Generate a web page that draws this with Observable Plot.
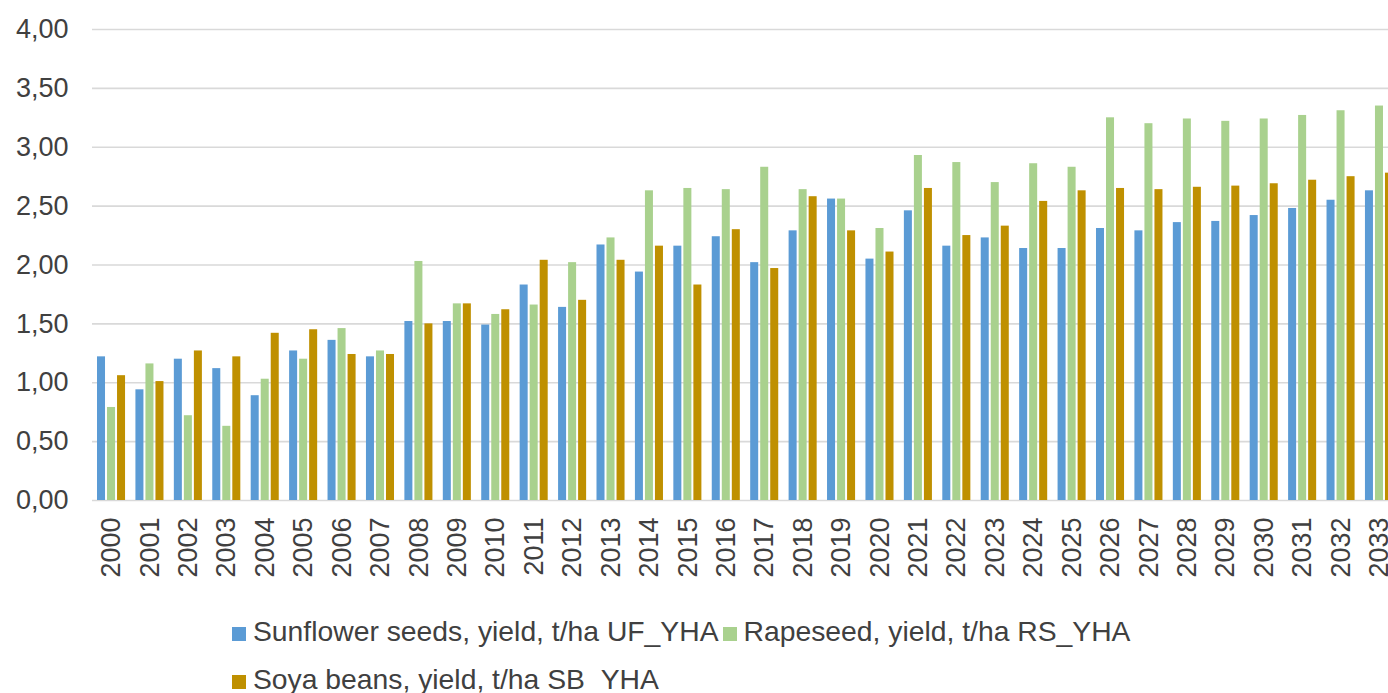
<!DOCTYPE html>
<html>
<head>
<meta charset="utf-8">
<script src="https://cdn.jsdelivr.net/npm/d3@7"></script>
<script src="https://cdn.jsdelivr.net/npm/@observablehq/plot@0.6"></script>
<style>
  html, body { margin: 0; padding: 0; background: #fff; overflow: hidden; width: 1388px; height: 693px; }
  .layer { position: absolute; left: 0; top: 0; width: 1400px; }
  #legend { position: absolute; left: 232px; top: 607px; width: 960px; font-family: "Liberation Sans", Arial, sans-serif; font-size: 28.3px; color: #404040; line-height: 48px; }
  .item { display: inline-block; white-space: nowrap; margin-right: 4px; }
  .sw { display: inline-block; width: 14px; height: 14px; margin-right: 7px; vertical-align: 0px; }
</style>
</head>
<body>
<div id="grid" class="layer"></div>
<div id="bars" class="layer"></div>
<div id="legend"></div>
<script>
const years = ["2000","2001","2002","2003","2004","2005","2006","2007","2008","2009","2010","2011","2012","2013","2014","2015","2016","2017","2018","2019","2020","2021","2022","2023","2024","2025","2026","2027","2028","2029","2030","2031","2032","2033"];
const seriesNames = ["Sunflower seeds, yield, t/ha UF_YHA", "Rapeseed, yield, t/ha RS_YHA", "Soya beans, yield, t/ha SB_YHA"];
const seriesColors = ["#5B9BD5", "#A9D18E", "#BF9000"];
const sunflower = [1.22,0.94,1.20,1.12,0.89,1.27,1.36,1.22,1.52,1.52,1.49,1.83,1.64,2.17,1.94,2.16,2.24,2.02,2.29,2.56,2.05,2.46,2.16,2.23,2.14,2.14,2.31,2.29,2.36,2.37,2.42,2.48,2.55,2.63];
const rapeseed  = [0.79,1.16,0.72,0.63,1.03,1.20,1.46,1.27,2.03,1.67,1.58,1.66,2.02,2.23,2.63,2.65,2.64,2.83,2.64,2.56,2.31,2.93,2.87,2.70,2.86,2.83,3.25,3.20,3.24,3.22,3.24,3.27,3.31,3.35];
const soya      = [1.06,1.01,1.27,1.22,1.42,1.45,1.24,1.24,1.50,1.67,1.62,2.04,1.70,2.04,2.16,1.83,2.30,1.97,2.58,2.29,2.11,2.65,2.25,2.33,2.54,2.63,2.65,2.64,2.66,2.67,2.69,2.72,2.75,2.78];
const yTicks = [0,0.5,1,1.5,2,2.5,3,3.5,4];

const values = [sunflower, rapeseed, soya];
const data = [];
years.forEach((yr, i) => {
  seriesNames.forEach((s, j) => data.push({year: yr, series: s, value: values[j][i]}));
});

const fmt = d => d.toFixed(2).replace(".", ",");
const baseStyle = {fontFamily: "'Liberation Sans', Arial, sans-serif", fontSize: "27px", color: "#404040", background: "transparent", overflow: "visible", maxWidth: "none"};

const gridPlot = Plot.plot({
  width: 1398,
  height: 600,
  marginLeft: 92,
  marginRight: 0,
  marginTop: 29,
  marginBottom: 100,
  style: baseStyle,
  y: {domain: [0, 4], ticks: yTicks, tickFormat: fmt, tickSize: 0, tickPadding: 24, label: null},
  marks: [
    Plot.ruleY(yTicks, {stroke: "#d9d9d9", strokeWidth: 1.6})
  ]
});
document.getElementById("grid").appendChild(gridPlot);

const barPlot = Plot.plot({
  width: 1393,
  height: 600,
  marginLeft: 97,
  marginRight: 0,
  marginTop: 29,
  marginBottom: 100,
  style: baseStyle,
  fx: {domain: years, paddingInner: 0.27, paddingOuter: 0, round: false, label: null, tickRotate: -90, tickSize: 0, tickPadding: 17},
  x: {domain: seriesNames, paddingInner: 0.2, paddingOuter: 0, round: false, axis: null},
  y: {domain: [0, 4], axis: null},
  color: {domain: seriesNames, range: seriesColors},
  marks: [
    Plot.barY(data, {fx: "year", x: "series", y: "value", fill: "series"})
  ]
});
document.getElementById("bars").appendChild(barPlot);

const legend = document.getElementById("legend");
seriesNames.forEach((s, j) => {
  const item = document.createElement("span");
  item.className = "item";
  const sw = document.createElement("span");
  sw.className = "sw";
  sw.style.background = seriesColors[j];
  item.appendChild(sw);
  item.appendChild(document.createTextNode(s));
  legend.appendChild(item);
});
</script>
</body>
</html>
